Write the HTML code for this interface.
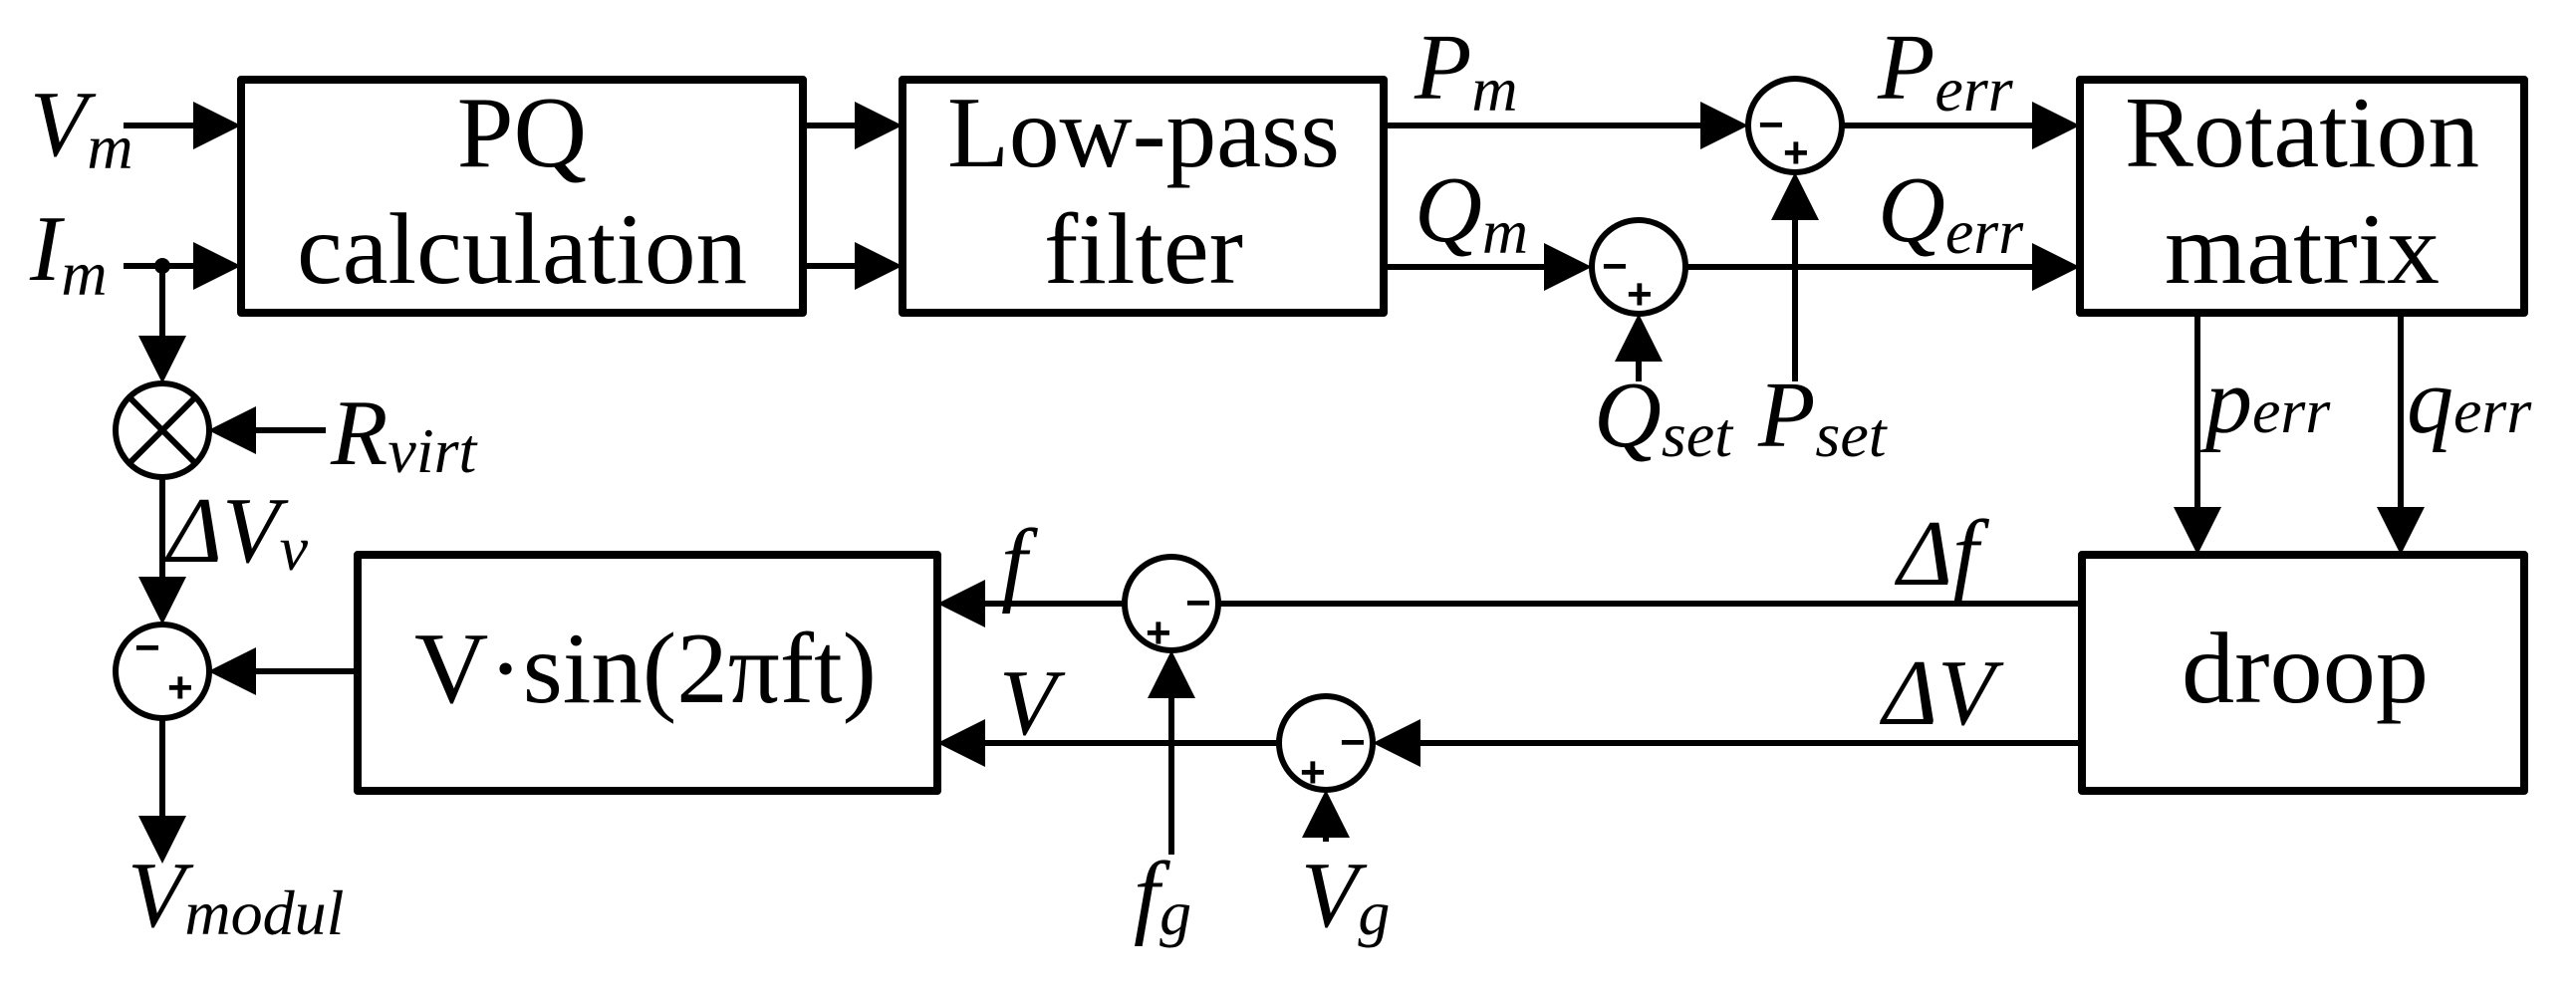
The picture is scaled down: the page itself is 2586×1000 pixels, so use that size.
<!DOCTYPE html>
<html><head><meta charset="utf-8"><style>
html,body{margin:0;padding:0;background:#fff;}
svg{display:block;}
.b{font-family:"Liberation Serif",serif;font-size:102px;fill:#000;}
.i{font-family:"Liberation Serif",serif;font-style:italic;font-size:94px;fill:#000;}
.s{font-size:64px;}
.sg{font-family:"Liberation Sans",sans-serif;font-weight:bold;font-size:44px;fill:#000;}
</style></head><body>
<svg width="2586" height="1000" viewBox="0 0 2586 1000" xmlns="http://www.w3.org/2000/svg">
<g fill="none" stroke="#000" stroke-width="8" stroke-linejoin="round">
<rect x="242" y="80" width="564" height="234"/>
<rect x="906" y="80" width="483" height="234"/>
<rect x="2088" y="80" width="446" height="234"/>
<rect x="359" y="557" width="582" height="237"/>
<rect x="2090" y="557" width="444" height="237"/>
</g>
<g fill="none" stroke="#000" stroke-width="6">
<circle cx="163" cy="432" r="47"/>
<line x1="130" y1="399" x2="196" y2="465"/><line x1="196" y1="399" x2="130" y2="465"/>
<circle cx="163" cy="674" r="47"/>
<circle cx="1802" cy="126" r="47"/>
<circle cx="1645" cy="268" r="47"/>
<circle cx="1176" cy="606" r="47"/>
<circle cx="1331" cy="746" r="47"/>
<path d="M124 126H200M124 267H200M163 267V345M327 432H250M163 479V590M359 674H250M163 721V825
M806 126H866M806 267H866M1389 126H1712M1389 268H1555M1849 126H2045M1692 268H2045
M1645 383V355M1802 383V215M2206 314V515M2410 314V515
M2090 606H1223M1129 606H985M2090 746H1421M1284 746H985M1176 858V695M1331 845V835"/>
</g>
<circle cx="163" cy="267" r="8" fill="#000"/>
<g fill="#000">
<polygon points="242,126 194,102 194,150"/>
<polygon points="242,267 194,243 194,291"/>
<polygon points="163,385 139,337 187,337"/>
<polygon points="209,432 257,408 257,456"/>
<polygon points="163,627 139,579 187,579"/>
<polygon points="209,674 257,650 257,698"/>
<polygon points="163,867 139,819 187,819"/>
<polygon points="906,126 858,102 858,150"/>
<polygon points="906,267 858,243 858,291"/>
<polygon points="1755,126 1707,102 1707,150"/>
<polygon points="1598,268 1550,244 1550,292"/>
<polygon points="2088,126 2040,102 2040,150"/>
<polygon points="2088,268 2040,244 2040,292"/>
<polygon points="1645,315 1621,363 1669,363"/>
<polygon points="1802,173 1778,221 1826,221"/>
<polygon points="2206,557 2182,509 2230,509"/>
<polygon points="2410,557 2386,509 2434,509"/>
<polygon points="941,606 989,582 989,630"/>
<polygon points="941,746 989,722 989,770"/>
<polygon points="1378,746 1426,722 1426,770"/>
<polygon points="1176,653 1152,701 1200,701"/>
<polygon points="1331,793 1307,841 1355,841"/>
</g>
<g class="sg">
<text x="135" y="665">−</text><text x="168" y="705">+</text>
<text x="1765" y="140">−</text><text x="1790" y="168">+</text>
<text x="1608" y="282">−</text><text x="1633" y="310">+</text>
<text x="1190" y="620">−</text><text x="1150" y="650">+</text>
<text x="1345" y="760">−</text><text x="1305" y="790">+</text>
</g>
<g class="b" text-anchor="middle">
<text x="524" y="167">PQ</text>
<text x="524" y="284" textLength="452" lengthAdjust="spacingAndGlyphs">calculation</text>
<text x="1148" y="167" textLength="394" lengthAdjust="spacingAndGlyphs">Low-pass</text>
<text x="1148" y="284" textLength="200" lengthAdjust="spacingAndGlyphs">filter</text>
<text x="2311" y="167" textLength="356" lengthAdjust="spacingAndGlyphs">Rotation</text>
<text x="2311" y="284" textLength="276" lengthAdjust="spacingAndGlyphs">matrix</text>
<text x="648" y="705" textLength="464" lengthAdjust="spacingAndGlyphs">V·sin(2πft)</text>
<text x="2314" y="705" textLength="248" lengthAdjust="spacingAndGlyphs">droop</text>
</g>
<g class="i">
<text x="30" y="156">V<tspan class="s" dy="13">m</tspan></text>
<text x="30" y="281">I<tspan class="s" dy="15">m</tspan></text>
<text x="332" y="466">R<tspan class="s" dy="8">virt</tspan></text>
<text x="168" y="564">ΔV<tspan class="s" dy="8">v</tspan></text>
<text x="128" y="930">V<tspan class="s" dy="8">modul</tspan></text>
<text x="1005" y="596">f</text>
<text x="1003" y="737">V</text>
<text x="1138" y="930">f<tspan class="s" dy="8">g</tspan></text>
<text x="1306" y="930">V<tspan class="s" dy="8">g</tspan></text>
<text x="1420" y="99">P<tspan class="s" dy="12">m</tspan></text>
<text x="1420" y="242">Q<tspan class="s" dy="12">m</tspan></text>
<text x="1885" y="99">P<tspan class="s" dy="12">err</tspan></text>
<text x="1885" y="242">Q<tspan class="s" dy="12">err</tspan></text>
<text x="1600" y="448">Q<tspan class="s" dy="10">set</tspan></text>
<text x="1765" y="448">P<tspan class="s" dy="10">set</tspan></text>
<text x="2214" y="434">p<tspan class="s">err</tspan></text>
<text x="2416" y="434">q<tspan class="s">err</tspan></text>
<text x="1905" y="587">Δf</text>
<text x="1890" y="727">ΔV</text>
</g>
</svg>
</body></html>
